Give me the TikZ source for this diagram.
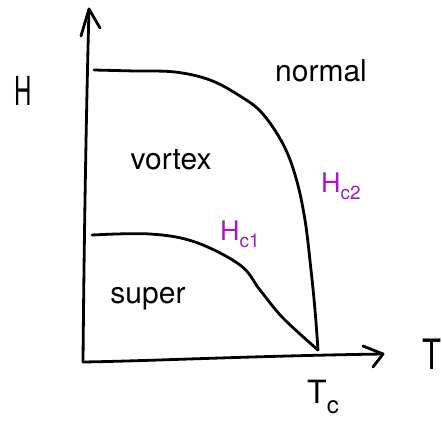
\documentclass[tikz,border=0pt]{standalone}
\usepackage{fontspec}
\setmainfont{TeX Gyre Heros}
\definecolor{hcpurple}{RGB}{165,25,200}
\newcommand{\subtxt}[2]{\raisebox{#1}{\fontsize{19}{19}\selectfont #2}}
\begin{document}
\begin{tikzpicture}[x=1pt,y=-1pt,
  pen/.style={line width=2.8pt,line cap=round,line join=round,black},
  lbl/.style={font=\fontsize{30}{30}\selectfont,inner sep=0pt},
  hlbl/.style={font=\fontsize{27}{27}\selectfont,inner sep=0pt,text=hcpurple}]
\useasboundingbox (0,0) rectangle (442,422);
% axes
\coordinate (O) at (83,362);
\coordinate (Ytip) at (89,9);
\coordinate (Xtip) at (383,354);
\draw[pen] (O) .. controls (84,250) and (86,120) .. (Ytip);
\draw[pen] (81,36) -- (Ytip) -- (100,28);
\draw[pen] (O) .. controls (150,361) and (250,356) .. (Xtip);
\draw[pen] (363,346) -- (Xtip) -- (373,367);
% curves
\coordinate (Tcpt) at (318,350);
\draw[pen] plot[smooth,tension=0.6] coordinates {(94,70) (135,71) (175,72) (210,80) (240,96) (262,113) (283,144) (296,178) (305,220) (311,270) (315,310) (Tcpt)};
\draw[pen] plot[smooth,tension=0.6] coordinates {(92,235) (150,234) (195,242) (240,265) (260,290) (283,318) (Tcpt)};
% labels
\node[font=\fontsize{40}{40}\selectfont,inner sep=0pt,xscale=0.6,transform shape] (H) at (23,91) {H};
\node[font=\fontsize{31}{31}\selectfont,inner sep=0pt,yscale=1.35,transform shape,anchor=east] (T) at (441.5,354) {T};
\node[lbl] (normal) at (321,71) {normal};
\node[lbl] (vortex) at (171,160) {vortex};
\node[lbl] (super) at (148,299) {super};
\node[hlbl] (Hc1) at (240,234) {H\subtxt{-7pt}{c1}};
\node[hlbl] (Hc2) at (341,186) {H\subtxt{-7pt}{c2}};
\node[font=\fontsize{32}{32}\selectfont,inner sep=0pt] (Tc) at (323,397) {T\subtxt{-10pt}{\fontsize{24}{24}\selectfont c}};
\end{tikzpicture}
\end{document}
